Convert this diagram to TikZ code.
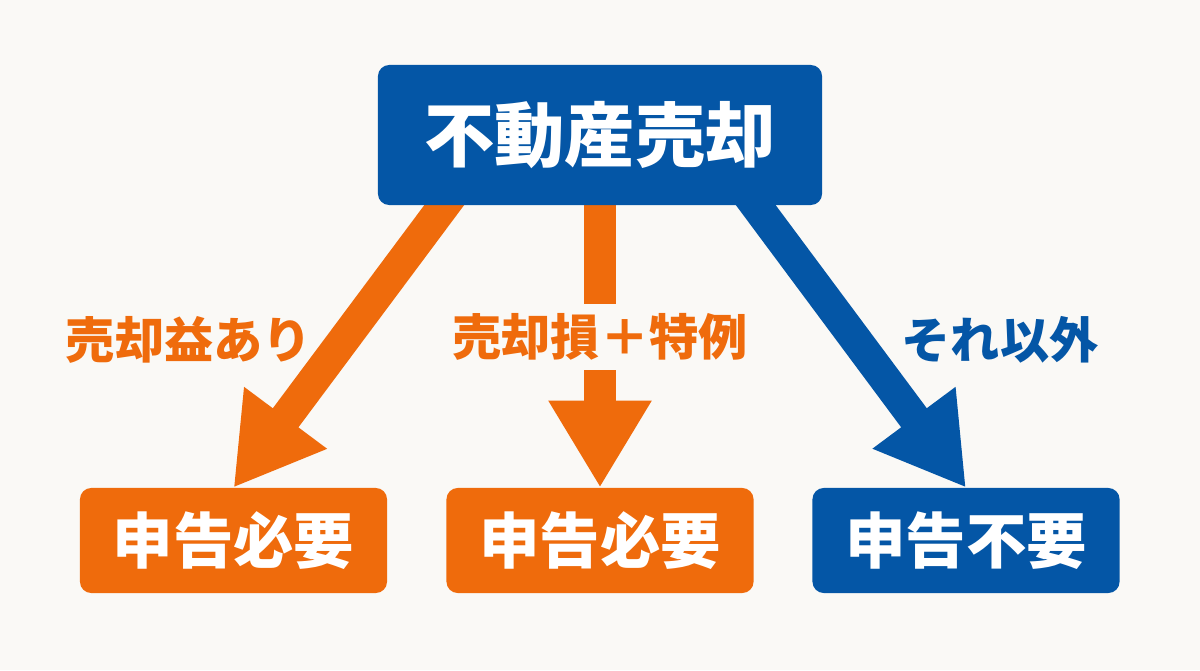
\documentclass[tikz,border=0pt]{standalone}
\usepackage{fontspec}
\newfontfamily\jp{Noto Sans CJK JP}
\usetikzlibrary{arrows.meta,backgrounds}
\definecolor{saleblue}{HTML}{0456A6}
\definecolor{saleorange}{HTML}{EF6B0C}
\definecolor{paper}{HTML}{FAF9F6}

\begin{document}
\begin{tikzpicture}[x=0.025cm,y=-0.025cm,
	box/.style={rounded corners=8pt,text=white,inner sep=0pt},
	topbox/.style={box,fill=saleblue,minimum width=11.1cm,minimum height=3.5cm,font=\jp\bfseries\fontsize{50}{60}\selectfont},
	endbox/.style={box,minimum width=7.675cm,minimum height=2.625cm,font=\jp\bfseries\fontsize{43}{52}\selectfont},
	branch/.style={inner sep=0pt,font=\jp\bfseries\fontsize{35}{42}\selectfont},
	bigarrow/.style={line width=22.7pt,-{Triangle[width=69pt,length=62pt]}}]

%boxes
\node[topbox] (sale) at (600,135) {不動産売却};
\node[endbox,fill=saleorange] (need1) at (233.5,540.5) {申告必要};
\node[endbox,fill=saleorange] (need2) at (600,540.5) {申告必要};
\node[endbox,fill=saleblue] (noneed) at (966,540.5) {申告不要};

%labels
\node[branch,text=saleorange] (gain) at (189,340) {売却益あり};
\node[branch,text=saleorange,fill=paper,minimum height=47.5pt] (loss) at (600,337) {売却損＋特例};
\node[branch,text=saleblue] (other) at (1000,340) {それ以外};

%arrows
\begin{pgfonlayer}{background}
\fill[paper] (0,0) rectangle (1200,670);
\draw[bigarrow,saleorange] ([xshift=-3.45cm,yshift=0.6cm]sale.south) -- (need1.north);
\draw[bigarrow,saleorange] ([yshift=0.6cm]sale.south) -- (need2.north);
\draw[bigarrow,saleblue] ([xshift=3.45cm,yshift=0.6cm]sale.south) -- (noneed.north);
\end{pgfonlayer}
\end{tikzpicture}
\end{document}
